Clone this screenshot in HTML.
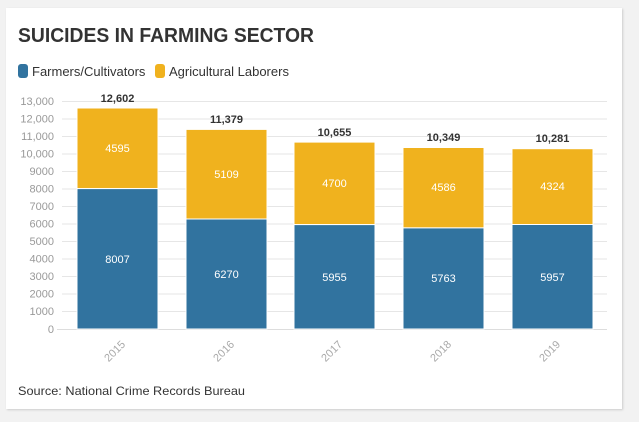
<!DOCTYPE html><html><head><style>
body{margin:0;width:639px;height:422px;background:#f2f2f2;overflow:hidden;font-family:"Liberation Sans",sans-serif}
.card{position:absolute;left:6px;top:8px;width:616px;height:401px;background:#fff;box-shadow:1px 1px 2px #ccc}
</style></head><body>
<div class="card"></div>
<svg width="639" height="422" style="position:absolute;left:0;top:0" font-family="Liberation Sans, sans-serif">
<text x="18" y="42" font-size="20" font-weight="bold" fill="#333" textLength="296" lengthAdjust="spacingAndGlyphs">SUICIDES IN FARMING SECTOR</text>
<rect x="18" y="64" width="10" height="14" rx="3" fill="#31739f"/>
<text x="32" y="76" font-size="13" fill="#333">Farmers/Cultivators</text>
<rect x="155" y="64" width="10" height="14" rx="3" fill="#f0b21e"/>
<text x="169" y="76" font-size="13" fill="#333">Agricultural Laborers</text>
<g stroke="#e6e6e6" stroke-width="1">
<line x1="62" x2="607" y1="101.5" y2="101.5"/><line x1="62" x2="607" y1="119" y2="119"/><line x1="62" x2="607" y1="136.5" y2="136.5"/><line x1="62" x2="607" y1="154" y2="154"/><line x1="62" x2="607" y1="171.5" y2="171.5"/><line x1="62" x2="607" y1="189" y2="189"/><line x1="62" x2="607" y1="206.5" y2="206.5"/><line x1="62" x2="607" y1="224" y2="224"/><line x1="62" x2="607" y1="241.5" y2="241.5"/><line x1="62" x2="607" y1="259" y2="259"/><line x1="62" x2="607" y1="276.5" y2="276.5"/><line x1="62" x2="607" y1="294" y2="294"/><line x1="62" x2="607" y1="311.5" y2="311.5"/><line x1="57" x2="607" y1="329.5" y2="329.5" stroke="#ddd"/>
</g>
<g font-size="11" fill="#999" text-anchor="end">
<text x="54" y="105">13,000</text><text x="54" y="122.5">12,000</text><text x="54" y="140">11,000</text><text x="54" y="157.5">10,000</text><text x="54" y="175">9000</text><text x="54" y="192.5">8000</text><text x="54" y="210">7000</text><text x="54" y="227.5">6000</text><text x="54" y="245">5000</text><text x="54" y="262.5">4000</text><text x="54" y="280">3000</text><text x="54" y="297.5">2000</text><text x="54" y="315">1000</text><text x="54" y="333">0</text>
</g>
<g stroke="#fff" stroke-width="1">
<rect x="77" y="108" width="81" height="80.6" fill="#f0b21e"/><rect x="77" y="188.6" width="81" height="140.4" fill="#31739f"/>
<rect x="186" y="129.4" width="81" height="89.6" fill="#f0b21e"/><rect x="186" y="219" width="81" height="110" fill="#31739f"/>
<rect x="294" y="142.1" width="81" height="82.5" fill="#f0b21e"/><rect x="294" y="224.6" width="81" height="104.4" fill="#31739f"/>
<rect x="403" y="147.5" width="81" height="80.4" fill="#f0b21e"/><rect x="403" y="227.9" width="81" height="101.1" fill="#31739f"/>
<rect x="512" y="148.7" width="81" height="75.8" fill="#f0b21e"/><rect x="512" y="224.5" width="81" height="104.5" fill="#31739f"/>
</g>
<g font-size="11" fill="#fff" text-anchor="middle">
<text x="117.5" y="152">4595</text><text x="117.5" y="263">8007</text>
<text x="226.5" y="178">5109</text><text x="226.5" y="278">6270</text>
<text x="334.5" y="187">4700</text><text x="334.5" y="281">5955</text>
<text x="443.5" y="191">4586</text><text x="443.5" y="282">5763</text>
<text x="552.5" y="190">4324</text><text x="552.5" y="281">5957</text>
</g>
<g font-size="11" font-weight="bold" fill="#333" text-anchor="middle">
<text x="117.5" y="102">12,602</text><text x="226.5" y="123">11,379</text><text x="334.5" y="136">10,655</text><text x="443.5" y="141">10,349</text><text x="552.5" y="142">10,281</text>
</g>
<g font-size="11" fill="#aaa" text-anchor="end">
<text transform="translate(126,345) rotate(-45)">2015</text>
<text transform="translate(235,345) rotate(-45)">2016</text>
<text transform="translate(343,345) rotate(-45)">2017</text>
<text transform="translate(452,345) rotate(-45)">2018</text>
<text transform="translate(561,345) rotate(-45)">2019</text>
</g>
<text x="18" y="395" font-size="12" fill="#333" textLength="227" lengthAdjust="spacingAndGlyphs">Source: National Crime Records Bureau</text>
</svg>
</body></html>
